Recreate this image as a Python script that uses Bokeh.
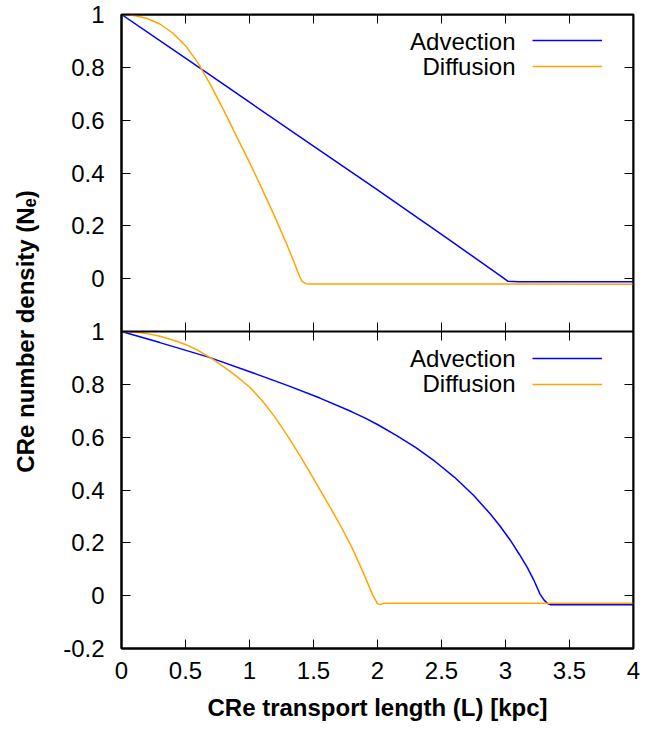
from bokeh.plotting import figure
from bokeh.models import Range1d, LinearAxis, FixedTicker, Label, Legend, LegendItem
from bokeh.embed import file_html
from bokeh.resources import INLINE

# ---------------- data ----------------
top_adv_x = [0.0, 0.5, 1.0, 1.5, 2.0, 2.5, 2.98, 3.02, 3.1, 4.0]
top_adv_y = [1.0, 0.835, 0.668, 0.502, 0.336, 0.168, 0.004, -0.010, -0.012, -0.012]

top_dif_x = [0.0, 0.1, 0.2, 0.3, 0.4, 0.5, 0.6, 0.7, 0.8, 0.9, 1.0, 1.1, 1.2, 1.3, 1.35, 1.39, 1.41, 1.44, 1.47, 4.0]
top_dif_y = [1.0, 0.996, 0.985, 0.964, 0.93, 0.882, 0.815, 0.73, 0.636, 0.538, 0.44, 0.338, 0.232, 0.12, 0.06, 0.01, -0.01, -0.019, -0.02, -0.021]

bot_adv_x = [0.0, 0.3, 0.68, 1.03, 1.3, 1.55, 1.8, 1.9, 2.0, 2.15, 2.3, 2.45, 2.6, 2.75, 2.88, 2.96,
             3.04, 3.11, 3.17, 3.22, 3.27, 3.3, 3.33, 3.35, 4.0]
bot_adv_y = [1.0, 0.958, 0.903, 0.843, 0.795, 0.748, 0.696, 0.673, 0.648, 0.606, 0.56, 0.508, 0.449, 0.38, 0.31, 0.262,
             0.208, 0.155, 0.107, 0.06, 0.006, -0.016, -0.03, -0.034, -0.034]

bot_dif_x = [0.0, 0.1, 0.2, 0.3, 0.4, 0.5, 0.6, 0.7, 0.8, 0.9, 1.0, 1.1, 1.2, 1.3, 1.4, 1.5, 1.6,
             1.7, 1.8, 1.9, 1.96, 2.0, 2.02, 2.05, 4.0]
bot_dif_y = [1.0, 0.998, 0.992, 0.982, 0.968, 0.951, 0.928, 0.899, 0.866, 0.83, 0.79, 0.738, 0.675, 0.603, 0.525, 0.443, 0.36,
             0.275, 0.183, 0.075, 0.005, -0.03, -0.034, -0.029, -0.029]

series_names = ["Advection", "Diffusion"]
series_colors = ["#0000ff", "#ffa500"]

x_ticks = [0, 0.5, 1, 1.5, 2, 2.5, 3, 3.5, 4]
x_tick_labels = ["0", "0.5", "1", "1.5", "2", "2.5", "3", "3.5", "4"]
bot_y_ticks = [-0.2, 0, 0.2, 0.4, 0.6, 0.8, 1]
bot_y_tick_labels = ["-0.2", "0", "0.2", "0.4", "0.6", "0.8", "1"]
top_y_ticks = [0, 0.2, 0.4, 0.6, 0.8, 1]
top_y_tick_labels = ["0", "0.2", "0.4", "0.6", "0.8", "1"]

x_label = "CRe transport length (L) [kpc]"
y_label = "CRe number density (N\u2091)"

# ---------------- layout constants ----------------
Y_MIN, Y_MAX = -0.2, 1.0
SPAN = Y_MAX - Y_MIN           # each panel covers -0.2 .. 1
FONT = "Liberation Sans"
FS = "24px"

p = figure(width=657, height=728, output_backend="svg", toolbar_location=None,
           x_range=Range1d(0, 4), y_range=Range1d(Y_MIN, Y_MAX + SPAN),
           x_axis_location=None, y_axis_location=None,
           min_border_left=121, min_border_right=24, min_border_top=14, min_border_bottom=80)
p.extra_y_ranges = {"top": Range1d(Y_MIN - SPAN, Y_MAX)}
p.grid.visible = False
p.outline_line_color = "black"
p.outline_line_width = 2
p.background_fill_color = "white"
p.border_fill_color = "white"


def style(ax, labels=True):
    ax.axis_line_color = "black"
    ax.axis_line_width = 2
    ax.major_tick_in = 9
    ax.major_tick_out = 0
    ax.major_tick_line_color = "black"
    ax.major_tick_line_width = 1
    ax.minor_tick_line_color = None
    ax.major_label_text_font = FONT
    ax.major_label_text_font_size = FS
    ax.major_label_text_color = "black" if labels else None


# left axis: bottom panel ticks on the main range, top panel ticks shifted by one panel span
shifted_top = [round(t + SPAN, 6) for t in top_y_ticks]
left_ticks = list(bot_y_ticks) + shifted_top
overrides = {t: s for t, s in zip(bot_y_ticks, bot_y_tick_labels)}
overrides.update({t: s for t, s in zip(shifted_top, top_y_tick_labels)})

left = LinearAxis(ticker=FixedTicker(ticks=left_ticks, minor_ticks=[]),
                  major_label_overrides=overrides, axis_label=y_label)
style(left)
left.major_label_standoff = 17
left.axis_label_standoff = 21
left.axis_label_text_font = FONT
left.axis_label_text_font_size = FS
left.axis_label_text_font_style = "bold"
left.axis_label_text_color = "black"
p.add_layout(left, "left")

right = LinearAxis(ticker=FixedTicker(ticks=left_ticks, minor_ticks=[]), fixed_location=4)
style(right, labels=False)
p.add_layout(right, "right")

x_over = {t: s for t, s in zip(x_ticks, x_tick_labels)}
bottom = LinearAxis(ticker=FixedTicker(ticks=x_ticks, minor_ticks=[]),
                    major_label_overrides=x_over, axis_label=x_label)
style(bottom)
bottom.major_label_standoff = 13
bottom.axis_label_standoff = 12
bottom.axis_label_text_font = FONT
bottom.axis_label_text_font_size = FS
bottom.axis_label_text_font_style = "bold"
bottom.axis_label_text_color = "black"
p.add_layout(bottom, "below")

top_ax = LinearAxis(ticker=FixedTicker(ticks=x_ticks, minor_ticks=[]), fixed_location=Y_MAX + SPAN)
style(top_ax, labels=False)
p.add_layout(top_ax, "above")

mid_ax = LinearAxis(ticker=FixedTicker(ticks=x_ticks, minor_ticks=[]), fixed_location=Y_MAX)
style(mid_ax, labels=False)
mid_ax.major_tick_out = 9
p.add_layout(mid_ax, "below")

# ---------------- curves ----------------
r_ta = p.line(top_adv_x, top_adv_y, line_color=series_colors[0], line_width=1.5, y_range_name="top")
r_td = p.line(top_dif_x, top_dif_y, line_color=series_colors[1], line_width=1.5, y_range_name="top")
r_ba = p.line(bot_adv_x, bot_adv_y, line_color=series_colors[0], line_width=1.5)
r_bd = p.line(bot_dif_x, bot_dif_y, line_color=series_colors[1], line_width=1.5)

# ---------------- key: text on the left, sample on the right ----------------
KEY_X = 3.078
KEY_Y = [0.899, 0.802]
for rng in ("top", "default"):
    for name, ky in zip(series_names, KEY_Y):
        p.add_layout(Label(x=KEY_X, y=ky, y_range_name=rng, text=name, text_align="right",
                           text_baseline="middle", text_font=FONT, text_font_size=FS,
                           text_color="black"))


def key(renderers, loc):
    return Legend(items=[LegendItem(label="", renderers=[r]) for r in renderers],
                  location=loc, glyph_width=70, glyph_height=26, label_height=26,
                  label_width=0, label_standoff=0, padding=0, margin=0, spacing=0,
                  border_line_color=None, background_fill_alpha=0)


p.add_layout(key([r_ta, r_td], (411, 569)))
p.add_layout(key([r_ba, r_bd], (411, 251)))

open("out.html", "w").write(file_html(p, INLINE))
